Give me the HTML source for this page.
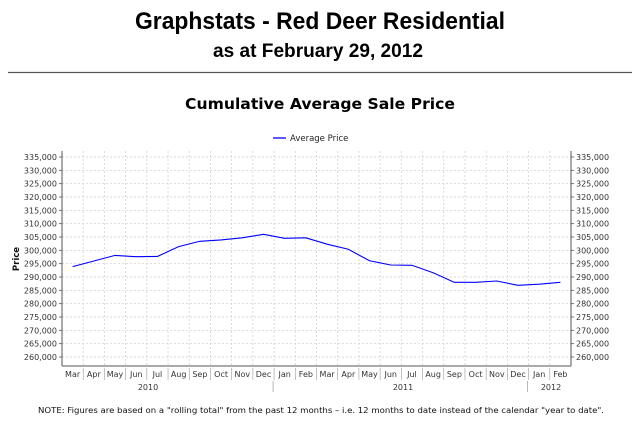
<!DOCTYPE html>
<html><head><meta charset="utf-8"><style>
html,body{margin:0;padding:0;background:#fff;width:640px;height:432px;overflow:hidden}
svg{display:block}
text{font-family:"DejaVu Sans","Liberation Sans",sans-serif}
</style></head><body>
<svg id="c" width="640" height="432" viewBox="0 0 640 432">
<text x="320" y="29" text-anchor="middle" font-family="Liberation Sans" font-weight="bold" font-size="24" textLength="370" lengthAdjust="spacingAndGlyphs" style="font-family:'Liberation Sans',sans-serif">Graphstats - Red Deer Residential</text>
<text x="318" y="57" text-anchor="middle" font-weight="bold" font-size="19" textLength="210" lengthAdjust="spacingAndGlyphs" style="font-family:'Liberation Sans',sans-serif">as at February 29, 2012</text>
<line x1="8" y1="72.5" x2="632" y2="72.5" stroke="#555" stroke-width="1.2"/>
<text x="320" y="109" text-anchor="middle" font-weight="bold" font-size="15" textLength="270" lengthAdjust="spacingAndGlyphs">Cumulative Average Sale Price</text>
<g>
<line x1="273" y1="138" x2="286" y2="138" stroke="#0000ff" stroke-width="1.3"/>
<text x="290" y="141" font-size="8.5" fill="#222">Average Price</text>
</g>
<g id="plot"></g>
<text x="321" y="413" text-anchor="middle" font-size="8.2" textLength="566" lengthAdjust="spacingAndGlyphs" fill="#111">NOTE:  Figures are based on a "rolling total" from the past 12 months – i.e. 12 months to date instead of the calendar "year to date".</text>
</svg>
<script>
const months=["Mar","Apr","May","Jun","Jul","Aug","Sep","Oct","Nov","Dec","Jan","Feb","Mar","Apr","May","Jun","Jul","Aug","Sep","Oct","Nov","Dec","Jan","Feb"];
const prices=[293900,296000,298100,297600,297700,301400,303400,303900,304700,306000,304500,304700,302300,300400,296100,294500,294400,291600,288000,288000,288500,286900,287300,288000];
const yTicks=[260000,265000,270000,275000,280000,285000,290000,295000,300000,305000,310000,315000,320000,325000,330000,335000];
const years=["2010","2011","2012"];
const yearStart=[0,10,22];
const yearEnd=[10,22,24];

const NS="http://www.w3.org/2000/svg";
const g=document.getElementById('plot');
const L=62,R=571,T=151,B=366;
const bw=(R-L)/months.length;
function x(i){return L+bw*(i+0.5);}
function y(v){return 157+(335000-v)*200/75000;}
function mk(t,a,p){const e=document.createElementNS(NS,t);for(const k in a)e.setAttribute(k,a[k]);(p||g).appendChild(e);return e;}
// grid
yTicks.forEach(v=>{
 const l=mk('line',{x1:L,x2:R,y1:y(v),y2:y(v),stroke:'#ccc','stroke-width':0.7,'stroke-dasharray':'2,2'});
 
 
 const t1=mk('text',{x:57,y:y(v)+3,'text-anchor':'end','font-size':8,fill:'#333'});t1.textContent=v.toLocaleString('en-US');
 
 
 const t2=mk('text',{x:576,y:y(v)+3,'font-size':8,fill:'#333'});t2.textContent=v.toLocaleString('en-US');
 
 
 mk('line',{x1:59,x2:62,y1:y(v),y2:y(v),stroke:'#555','stroke-width':0.8});
 mk('line',{x1:571,x2:574,y1:y(v),y2:y(v),stroke:'#555','stroke-width':0.8});
});
months.forEach((m,i)=>{
 const l=mk('line',{x1:L+bw*(i+1),x2:L+bw*(i+1),y1:T,y2:B,stroke:'#ccc','stroke-width':0.7,'stroke-dasharray':'2,2'});
 
 
 const t=mk('text',{x:x(i),y:377,'text-anchor':'middle','font-size':8,fill:'#333'});t.textContent=m;
 
 
 if(i>0) mk('line',{x1:L+bw*i,x2:L+bw*i,y1:368,y2:380,stroke:'#999','stroke-width':0.6});
});
years.forEach((yr,j)=>{
 const cx=j==0?148:(j==1?403:551);
 const t=mk('text',{x:cx,y:390,'text-anchor':'middle','font-size':8,fill:'#333'});t.textContent=yr;
 
 
 if(j>0){const sx=L+bw*yearStart[j]-1;mk('line',{x1:sx,x2:sx,y1:381,y2:392,stroke:'#999','stroke-width':0.7});}
});
// axes
mk('line',{x1:L,x2:L,y1:T,y2:B,stroke:'#555','stroke-width':1});
mk('line',{x1:R,x2:R,y1:T,y2:B,stroke:'#555','stroke-width':1});
mk('line',{x1:L,x2:R,y1:B,y2:B,stroke:'#555','stroke-width':1});
const yt=mk('text',{x:0,y:0,transform:'translate(19,259) rotate(-90)','text-anchor':'middle','font-size':8.5,'font-weight':'bold',fill:'#111'});yt.textContent='Price';


const pl=mk('polyline',{points:prices.map((v,i)=>x(i)+','+y(v)).join(' '),fill:'none',stroke:'#0000ff','stroke-width':1.1});


</script>
</body></html>
